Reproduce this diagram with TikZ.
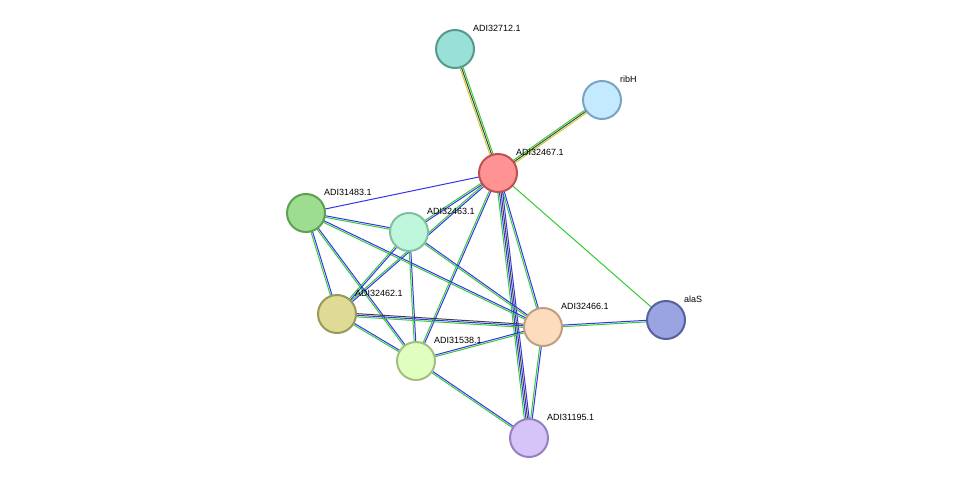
\documentclass[tikz,border=0pt]{standalone}
\usepackage{fontspec}
\setmainfont{Liberation Sans}
\usetikzlibrary{calc}
\definecolor{eg}{HTML}{33CC33}
\definecolor{eb}{HTML}{3333EE}
\definecolor{ey}{HTML}{CCCC33}
\definecolor{ek}{HTML}{404040}
\newcommand\medge[3]{%
  \foreach \cc/\oo in {#3}{%
    \draw[\cc,line width=1pt] ($(#1)!\oo pt!90:(#2)$) -- ($(#2)!\oo pt!-90:(#1)$);}}
\newcommand\prot[4]{%
  \definecolor{f#1}{HTML}{#2}\definecolor{s#1}{HTML}{#3}%
  \node[prot,fill=f#1,draw=s#1] (n#1) at (c#1) {};
  \node[lab,anchor=west] (l#1) at ($(c#1)+(18,-21)$) {#4};}
\begin{document}
\begin{tikzpicture}[x=1pt,y=-1pt,
  prot/.style={circle,minimum size=38pt,inner sep=0pt,line width=2pt},
  lab/.style={font=\fontsize{9}{10}\selectfont,inner sep=0pt}]
\useasboundingbox (0,0) rectangle (976,484);
\coordinate (cA) at (455,49);
\coordinate (cB) at (602,100);
\coordinate (cC) at (498,173);
\coordinate (cD) at (306,213);
\coordinate (cE) at (409,232);
\coordinate (cF) at (337,314);
\coordinate (cG) at (543,327);
\coordinate (cH) at (666,320);
\coordinate (cI) at (416,361);
\coordinate (cJ) at (529,438);
\medge{cC}{cA}{eg/-1.6,ek/0,ey/1.6}
\medge{cC}{cB}{eg/1.6,ek/0,ey/-1.6}
\medge{cC}{cD}{eb/0}
\medge{cC}{cE}{eg/-0.8,eb/0.8}
\medge{cC}{cF}{eg/-0.8,eb/0.8}
\medge{cC}{cI}{eg/-0.8,eb/0.8}
\medge{cC}{cG}{eg/-0.8,eb/0.8}
\medge{cC}{cJ}{eg/-2.4,eb/-0.8,ek/0.8,eb/2.4}
\medge{cC}{cH}{eg/0}
\medge{cD}{cE}{eg/-0.8,eb/0.8}
\medge{cD}{cG}{eg/-0.8,eb/0.8}
\medge{cD}{cF}{eg/-0.8,eb/0.8}
\medge{cD}{cI}{eg/-0.8,eb/0.8}
\medge{cE}{cF}{eg/-0.8,eb/0.8}
\medge{cE}{cI}{eg/-0.8,eb/0.8}
\medge{cE}{cG}{eg/-0.8,eb/0.8}
\medge{cF}{cG}{eg/-1.6,eb/0,ek/1.6}
\medge{cF}{cI}{eg/-0.8,eb/0.8}
\medge{cI}{cG}{eg/-0.8,eb/0.8}
\medge{cI}{cJ}{eg/-0.8,eb/0.8}
\medge{cG}{cH}{eg/-0.8,eb/0.8}
\medge{cG}{cJ}{eg/-0.8,eb/0.8}
\prot{A}{99E0D6}{55998F}{ADI32712.1}
\prot{B}{C4EAFF}{7AA3C0}{ribH}
\prot{C}{FF9393}{C05050}{ADI32467.1}
\prot{D}{9DDD8F}{5E9E55}{ADI31483.1}
\prot{E}{BFF7DC}{80C0A0}{ADI32463.1}
\prot{F}{DDDB96}{9A985A}{ADI32462.1}
\prot{G}{FDDCBE}{BF9F80}{ADI32466.1}
\prot{H}{9AA4E0}{56609E}{alaS}
\prot{I}{E0FEC0}{A0C080}{ADI31538.1}
\prot{J}{D6C4F8}{9680C0}{ADI31195.1}
\end{tikzpicture}
\end{document}
